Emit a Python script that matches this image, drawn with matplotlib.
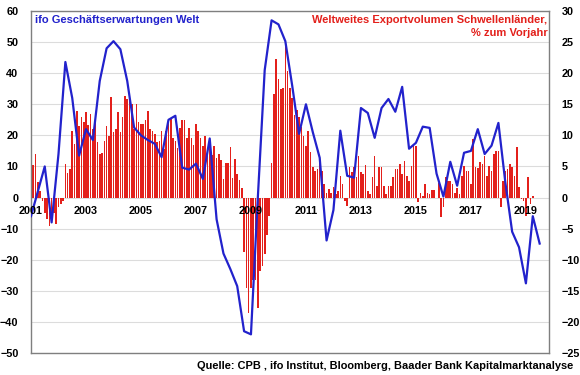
import numpy as np
import matplotlib
matplotlib.use('Agg')
import matplotlib.pyplot as plt

plt.rcParams['font.family'] = 'Liberation Sans'
plt.rcParams['font.weight'] = 'bold'

# ifo Geschaeftserwartungen Welt, quarterly from Q1 2001 (left axis)
ifo_values = [
    -6, 2, 10, -8,
    14, 43.6, 32, 13.5,
    22, 18.5, 37.5, 48,
    50.3, 47.7, 37.5, 22.5,
    20, 18.5, 17.3, 13,
    25, 26.3, 9.6, 9,
    10.9, 6, 19, -7,
    -18, -23, -28.5, -43,
    -44, 0, 41, 57,
    55.7, 50.3, 36, 20.5,
    30, 21, 12.8, -13.8,
    -4, 21.5, 7, 6.4,
    28.8, 27.2, 19.2, 28.8,
    31.7, 27.6, 35.6, 15.7,
    17.6, 22.8, 22.4, 7.7,
    0.3, 11.5, 3.8, 14.4,
    15, 22, 14, 16.7,
    24, 5, -11, -16,
    -27.6, -6, -14.8,
]

# Weltweites Exportvolumen Schwellenlaender, % yoy, monthly from Jan 2001 (right axis)
export_2001 = [8.5, 5.2, 7.0, 2.5, 1.0, -0.5, -2.5, -3.5, -4.5, -4.0, -2.5, -4.3]
export_2002 = [-1.5, -1.0, -0.5, 5.4, 4.0, 4.6, 10.7, 8.6, 13.9, 11.5, 12.9, 12.1]
export_2003 = [13.7, 11.6, 13.5, 11.0, 12.0, 8.9, 7.0, 7.2, 9.1, 11.5, 9.9, 16.1]
export_2004 = [10.5, 11.0, 13.7, 10.5, 12.9, 16.3, 15.8, 15.8, 15.0, 11.0, 15.0, 12.1]
export_2005 = [11.8, 11.8, 12.4, 13.9, 11.0, 10.7, 10.2, 8.9, 9.1, 10.7, 7.8, 10.7]
export_2006 = [12.4, 12.6, 9.6, 9.1, 8.0, 11.2, 12.4, 12.4, 9.6, 11.2, 9.6, 8.5]
export_2007 = [11.8, 10.7, 9.6, 8.3, 9.9, 6.9, 8.5, 6.9, 8.3, 6.4, 7.0, 6.0]
export_2008 = [3.0, 5.5, 5.6, 8.2, 3.2, 6.2, 3.8, 2.8, 1.5, -8.8, -14.5, -18.5]
export_2009 = [-14.5, -13.3, -13.3, -17.8, -11.8, -11.0, -9.0, -6.0, -3.0, 5.6, 16.7, 22.3]
export_2010 = [19.0, 17.5, 17.6, 24.5, 20.3, 17.6, 16.0, 13.2, 14.0, 12.9, 11.3, 9.9]
export_2011 = [8.3, 10.7, 7.3, 4.9, 4.3, 4.6, 6.5, 4.3, 2.2, 0.8, 1.4, 0.8]
export_2012 = [1.7, 0.5, 1.1, 3.5, 2.2, -0.5, -1.3, 4.9, 4.1, 4.9, 3.3, 6.7]
export_2013 = [4.1, 3.8, 5.2, 1.1, 0.5, 3.3, 6.7, 1.9, 4.9, 4.9, 1.9, 0.5]
export_2014 = [1.8, 1.8, 3.3, 4.6, 4.6, 5.4, 3.8, 5.9, 3.5, 2.7, 5.1, 8.3]
export_2015 = [8.3, -0.7, 0.8, 0.3, 2.2, 0.7, 0.6, 1.2, 1.2, 0.0, 2.3, -3.2]
export_2016 = [-1.5, 3.3, 2.6, 2.6, 2.1, 0.8, 1.6, 0.5, 3.5, 5.1, 4.3, 4.3]
export_2017 = [2.2, 9.4, 4.9, 4.8, 5.7, 5.4, 6.7, 3.5, 5.1, 4.3, 7.0, 7.5]
export_2018 = [7.5, -1.5, 2.7, 4.3, 4.6, 5.4, 4.9, 3.5, 8.1, 1.7, -0.2, -0.5]
export_2019 = [-2.9, 3.3, -1.0, 0.3]

year_labels = ['2001', '2003', '2005', '2007', '2009', '2011', '2013', '2015', '2017', '2019']

export_values = (export_2001 + export_2002 + export_2003 + export_2004 + export_2005
                 + export_2006 + export_2007 + export_2008 + export_2009 + export_2010
                 + export_2011 + export_2012 + export_2013 + export_2014 + export_2015
                 + export_2016 + export_2017 + export_2018 + export_2019)

month_x = 2001 + np.arange(len(export_values)) / 12
quarter_x = 2001 + np.arange(len(ifo_values)) / 4

blue = '#2222cc'
red = '#e3201b'
frame = '#7f7f7f'

fig = plt.figure(figsize=(5.8, 3.75), dpi=100)
ax = fig.add_axes([31 / 580, 1 - 353 / 375, 518 / 580, 342 / 375])

# bars on right scale
ax.bar(month_x, export_values, width=0.7 / 12, color=red, zorder=2)
ax.set_ylim(-25, 30)
ax.set_yticks(np.arange(-25, 31, 5))
ax.grid(axis='y', color='#dcdcdc', linewidth=0.8, zorder=0)
ax.set_axisbelow(True)
ax.set_xlim(2001, 2019.84)
ax.set_xticks([])
for s in ax.spines.values():
    s.set_color(frame)
    s.set_linewidth(1.0)

# line on left scale
ax2 = ax.twinx()
ax2.plot(quarter_x, ifo_values, color=blue, linewidth=1.6, zorder=3)
ax2.set_ylim(-50, 60)
ax2.set_yticks(np.arange(-50, 61, 10))
ax2.set_xlim(2001, 2019.84)
for s in ax2.spines.values():
    s.set_visible(False)

# put the scales on their sides (twinx flips them)
ax.yaxis.tick_right()
ax2.yaxis.tick_left()
ax.tick_params(axis='y', length=0, pad=9, labelsize=7.8)
ax2.tick_params(axis='y', length=0, pad=9, labelsize=7.8)

for lab in year_labels:
    ax2.text(int(lab), -4.2, lab, ha='center', va='center', fontsize=7.8,
             fontweight='bold', color='black', zorder=4)

ax2.text(2001.15, 57, 'ifo Geschäftserwartungen Welt', color=blue, fontsize=8,
         fontweight='bold', ha='left', va='center')
ax2.text(2019.78, 57, 'Weltweites Exportvolumen Schwellenländer,', color=red,
         fontsize=8, fontweight='bold', ha='right', va='center')
ax2.text(2019.78, 53, '% zum Vorjahr', color=red,
         fontsize=8, fontweight='bold', ha='right', va='center')

fig.text(573 / 580, 1 - 366 / 375,
         'Quelle: CPB , ifo Institut, Bloomberg, Baader Bank Kapitalmarktanalyse',
         ha='right', va='center', fontsize=7.9, fontweight='bold', color='black')

fig.savefig('out.png', dpi=100)
